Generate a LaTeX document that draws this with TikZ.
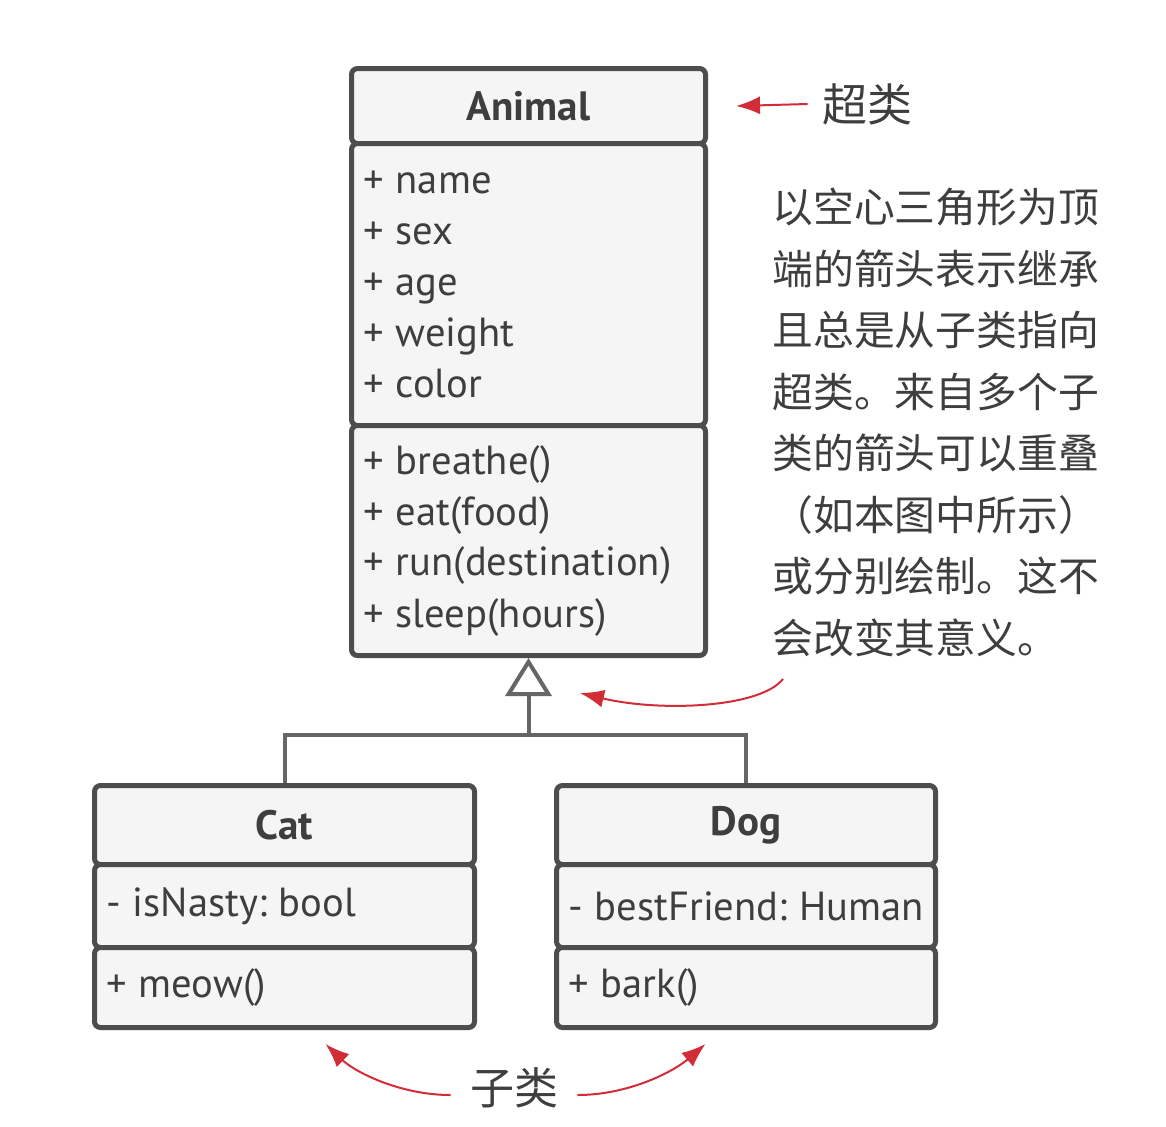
\documentclass[tikz,border=0pt]{standalone}
\usepackage{fontspec}
\setmainfont{PT Sans}
\newfontfamily\cjk{Noto Sans CJK SC}
\usetikzlibrary{arrows.meta, positioning, calc}
\definecolor{boxline}{RGB}{77,77,77}
\definecolor{boxfill}{RGB}{245,245,245}
\definecolor{linkgray}{RGB}{102,102,102}
\definecolor{notered}{RGB}{210,45,55}
\definecolor{textgray}{RGB}{62,62,62}
\frenchspacing

\begin{document}
\begin{tikzpicture}[x=0.5pt, y=-0.5pt,
  compart/.style={draw=boxline, fill=boxfill, line width=2.5pt, rounded corners=3pt,
    anchor=north west, inner xsep=6pt, inner ysep=0pt, align=left, text=textgray,
    font=\fontsize{20.3}{25.5}\selectfont,
    execute at begin node={\spaceskip=0.29em\relax}},
  classname/.style={compart, align=center, font=\fontsize{20.5}{25.5}\selectfont\bfseries},
  animalw/.style={minimum width=177pt, text width=165pt},
  catw/.style={minimum width=190pt, text width=178pt},
  dogw/.style={minimum width=189.5pt, text width=177.5pt},
  inherit/.style={draw=linkgray, line width=2pt},
  note arrow/.style={draw=notered, line width=1pt, -{Latex[length=12pt,width=9pt]}},
  cjktext/.style={text=textgray, inner sep=0pt}
]
  % Canvas
  \fill[white] (0,0) rectangle (1166,1126);
  \useasboundingbox (0,0) rectangle (1166,1126);

  % Superclass
  \node[classname, animalw, minimum height=37.5pt] (animal-head) at (349,66) {Animal};
  \node[compart, animalw, minimum height=141pt] (animal-attr) at (349,141)
    {+ name\\+ sex\\+ age\\+ weight\\+ color};
  \node[compart, animalw, minimum height=115pt] (animal-ops) at (349,423)
    {+ breathe()\\+ eat(food)\\+ run(destination)\\+ sleep(hours)};

  % Subclasses
  \node[classname, catw, minimum height=39.5pt] (cat-head) at (92,783) {Cat};
  \node[compart, catw, minimum height=41.5pt] (cat-attr) at (92,862) {- isNasty: bool};
  \node[compart, catw, minimum height=40pt] (cat-ops) at (92,945) {+ meow()};

  \node[classname, dogw, minimum height=39.5pt] (dog-head) at (554,783) {Dog};
  \node[compart, dogw, minimum height=41.5pt] (dog-attr) at (554,862) {\mbox{- bestFriend: Human}};
  \node[compart, dogw, minimum height=40pt] (dog-ops) at (554,945) {+ bark()};

  % Inheritance
  \path (animal-ops.south) ++(0,77) coordinate (junc);
  \draw[inherit] (cat-head.north) |- (junc) -| (dog-head.north);
  \draw[inherit, -{Triangle[open, length=19pt, width=23pt]}] (junc) -- (animal-ops.south);

  % Notes
  \node[cjktext, inner xsep=7pt, font=\cjk\fontsize{22.5}{22.5}\selectfont] (super) at (867,104) {超类};
  \draw[note arrow] (super.west) -- ([xshift=14pt]animal-head.east);

  \node[cjktext, anchor=north west, align=left, font=\cjk\fontsize{20.4}{30.75}\selectfont] (note) at (772,188)
    {以空心三角形为顶\\端的箭头表示继承\\且总是从子类指向\\超类。来自多个子\\类的箭头可以重叠\\（如本图中所示）\\或分别绘制。这不\\会改变其意义。};
  \coordinate (note-tail) at (783,679);
  \coordinate (tri-mark) at (580,693);
  \draw[note arrow] (note-tail) .. controls (760,708) and (660,712) .. (tri-mark);

  \node[cjktext, inner xsep=9.5pt, font=\cjk\fontsize{22}{22}\selectfont] (sub) at (514,1088) {子类};
  \draw[note arrow] ([yshift=-3.5pt]sub.west) .. controls (400,1095) and (355,1072) .. ($(cat-ops.south)+(41,14)$);
  \draw[note arrow] ([yshift=-3.5pt]sub.east) .. controls (628,1095) and (673,1072) .. ($(dog-ops.south)+(-40.5,14)$);
\end{tikzpicture}
\end{document}
